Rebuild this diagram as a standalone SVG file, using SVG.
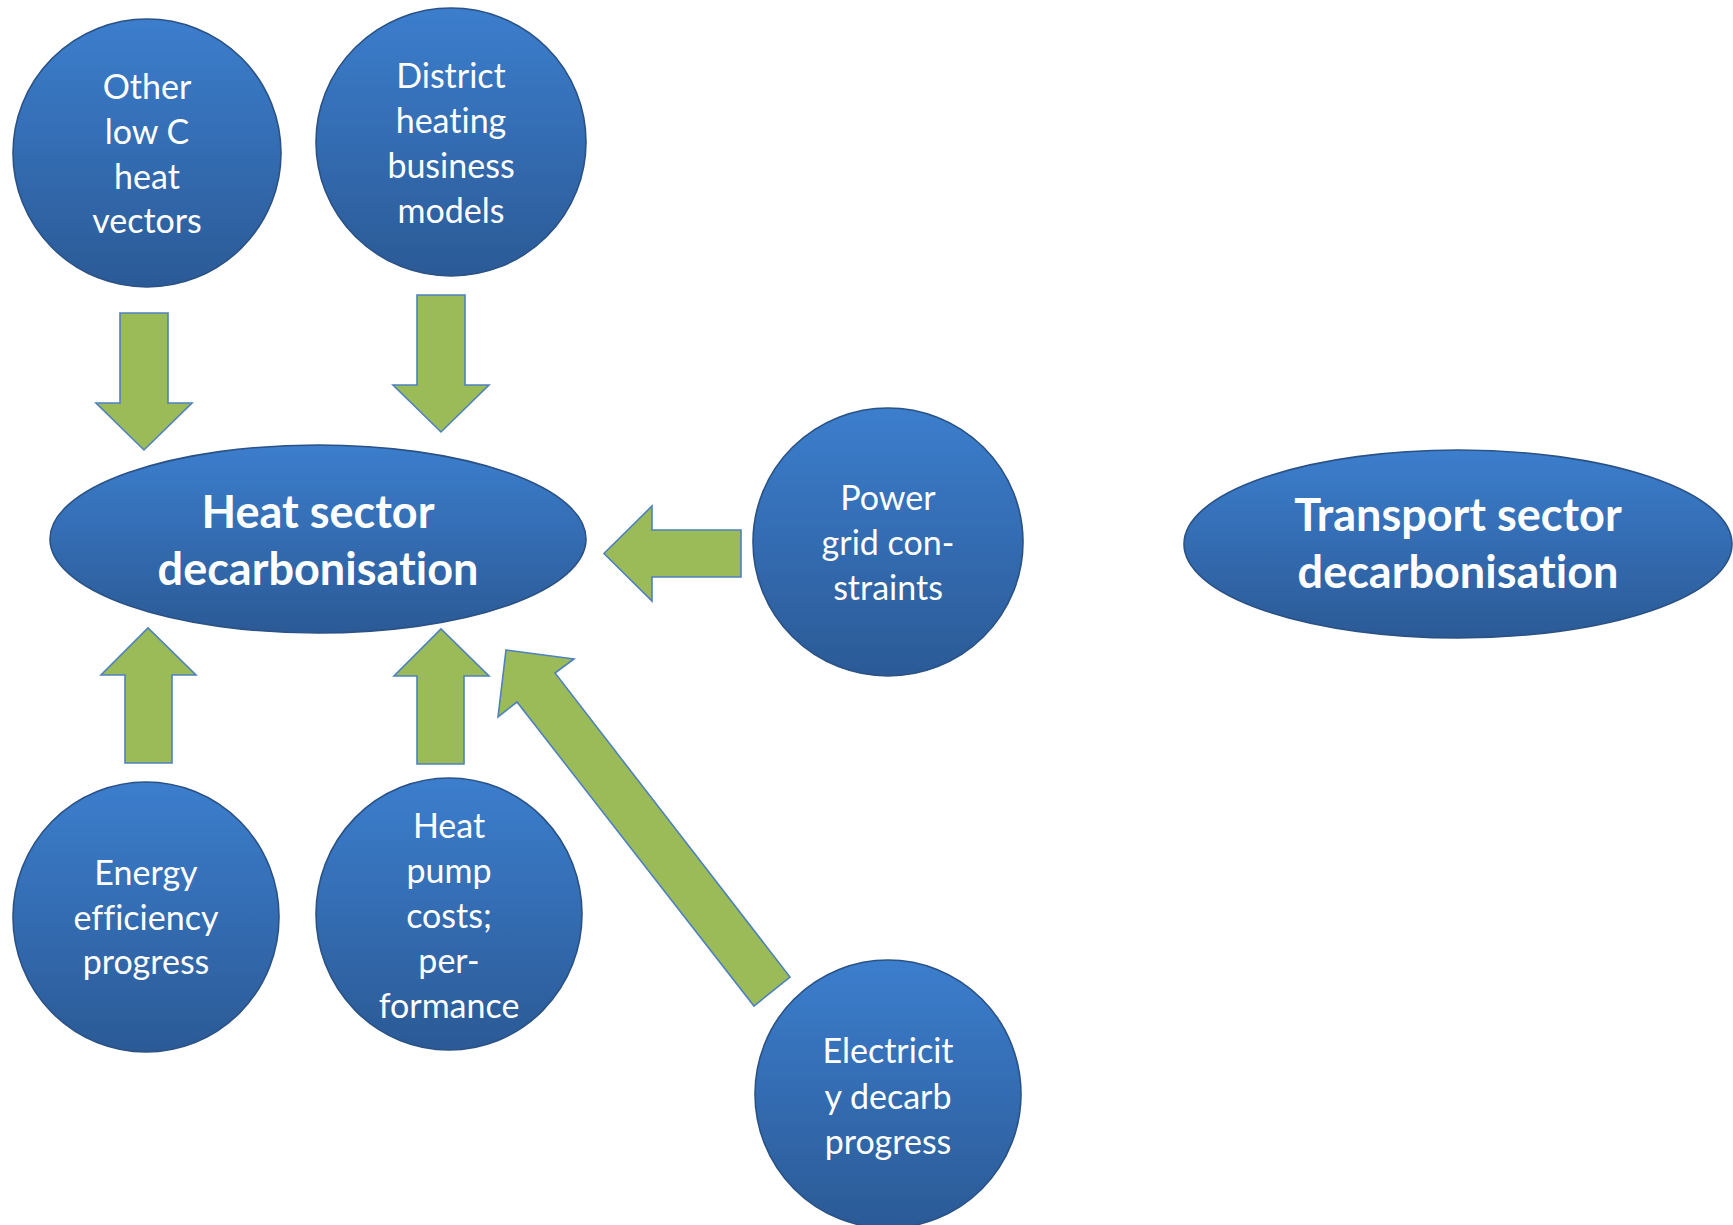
<svg xmlns="http://www.w3.org/2000/svg" width="1733" height="1225" viewBox="0 0 1733 1225">
<defs>
<linearGradient id="blueGrad" x1="0" y1="0" x2="0" y2="1">
<stop offset="0" stop-color="#3C7ECD"/>
<stop offset="1" stop-color="#2B5A96"/>
</linearGradient>
<style>
.node{fill:url(#blueGrad);stroke:#2A5286;stroke-width:1.6}
.arrow{fill:#9BBB59;stroke:#4F81BD;stroke-width:1.6;stroke-linejoin:miter}
.t{font-family:Lato,"Open Sans","Liberation Sans",sans-serif;font-size:34px;fill:#FFFFFF;text-anchor:middle;font-variant-ligatures:none;font-feature-settings:"liga" 0,"clig" 0}
.tb{font-family:Lato,"Open Sans","Liberation Sans",sans-serif;font-size:45px;font-weight:bold;fill:#FFFFFF;text-anchor:middle;font-variant-ligatures:none;font-feature-settings:"liga" 0,"clig" 0}
</style>
</defs>
<rect width="1733" height="1225" fill="#FFFFFF"/>
<g id="connectors">
<polygon class="arrow" points="120,313 168,313 168,403 192,403 144,450 96,403 120,403"/>
<polygon class="arrow" points="417,295 465,295 465,385 489,385 441,432 393,385 417,385"/>
<polygon class="arrow" points="741,530 741,577 652,577 652,601 604,553.5 652,506 652,530"/>
<polygon class="arrow" points="125,763 172,763 172,675 196,675 148,628 101,675 125,675"/>
<polygon class="arrow" points="417,764 464,764 464,676 489,676 441,629 394,676 417,676"/>
<polygon class="arrow" points="506,650 574,659 555,673 790,977 754,1006 517,702 498,717"/>
</g>
<g id="node-other">
<ellipse class="node" cx="147" cy="153" rx="134" ry="134"/>
<text class="t" x="147" y="99">Other</text>
<text class="t" x="147" y="144">low C</text>
<text class="t" x="147" y="189">heat</text>
<text class="t" x="147" y="233">vectors</text>
</g>
<g id="node-district">
<ellipse class="node" cx="451" cy="142" rx="135" ry="134"/>
<text class="t" x="451" y="88">District</text>
<text class="t" x="451" y="133">heating</text>
<text class="t" x="451" y="178">business</text>
<text class="t" x="451" y="223">models</text>
</g>
<g id="node-heat-sector">
<ellipse class="node" cx="318" cy="539" rx="268" ry="94"/>
<text class="tb" x="318" y="528">Heat sector</text>
<text class="tb" x="318" y="585">decarbonisation</text>
</g>
<g id="node-power">
<ellipse class="node" cx="888" cy="542" rx="135" ry="134"/>
<text class="t" x="888" y="510">Power</text>
<text class="t" x="888" y="555">grid con-</text>
<text class="t" x="888" y="600">straints</text>
</g>
<g id="node-transport">
<ellipse class="node" cx="1458" cy="544" rx="274" ry="94"/>
<text class="tb" x="1458" y="531">Transport sector</text>
<text class="tb" x="1458" y="588">decarbonisation</text>
</g>
<g id="node-energy">
<ellipse class="node" cx="146" cy="917" rx="133" ry="135"/>
<text class="t" x="146" y="885">Energy</text>
<text class="t" x="146" y="930">efficiency</text>
<text class="t" x="146" y="974">progress</text>
</g>
<g id="node-heatpump">
<ellipse class="node" cx="449" cy="914" rx="133" ry="136"/>
<text class="t" x="449" y="838">Heat</text>
<text class="t" x="449" y="883">pump</text>
<text class="t" x="449" y="928">costs;</text>
<text class="t" x="449" y="973">per-</text>
<text class="t" x="449" y="1018">formance</text>
</g>
<g id="node-electricity">
<ellipse class="node" cx="888" cy="1094" rx="133" ry="134"/>
<text class="t" x="888" y="1063">Electricit</text>
<text class="t" x="888" y="1109">y decarb</text>
<text class="t" x="888" y="1154">progress</text>
</g>
</svg>
